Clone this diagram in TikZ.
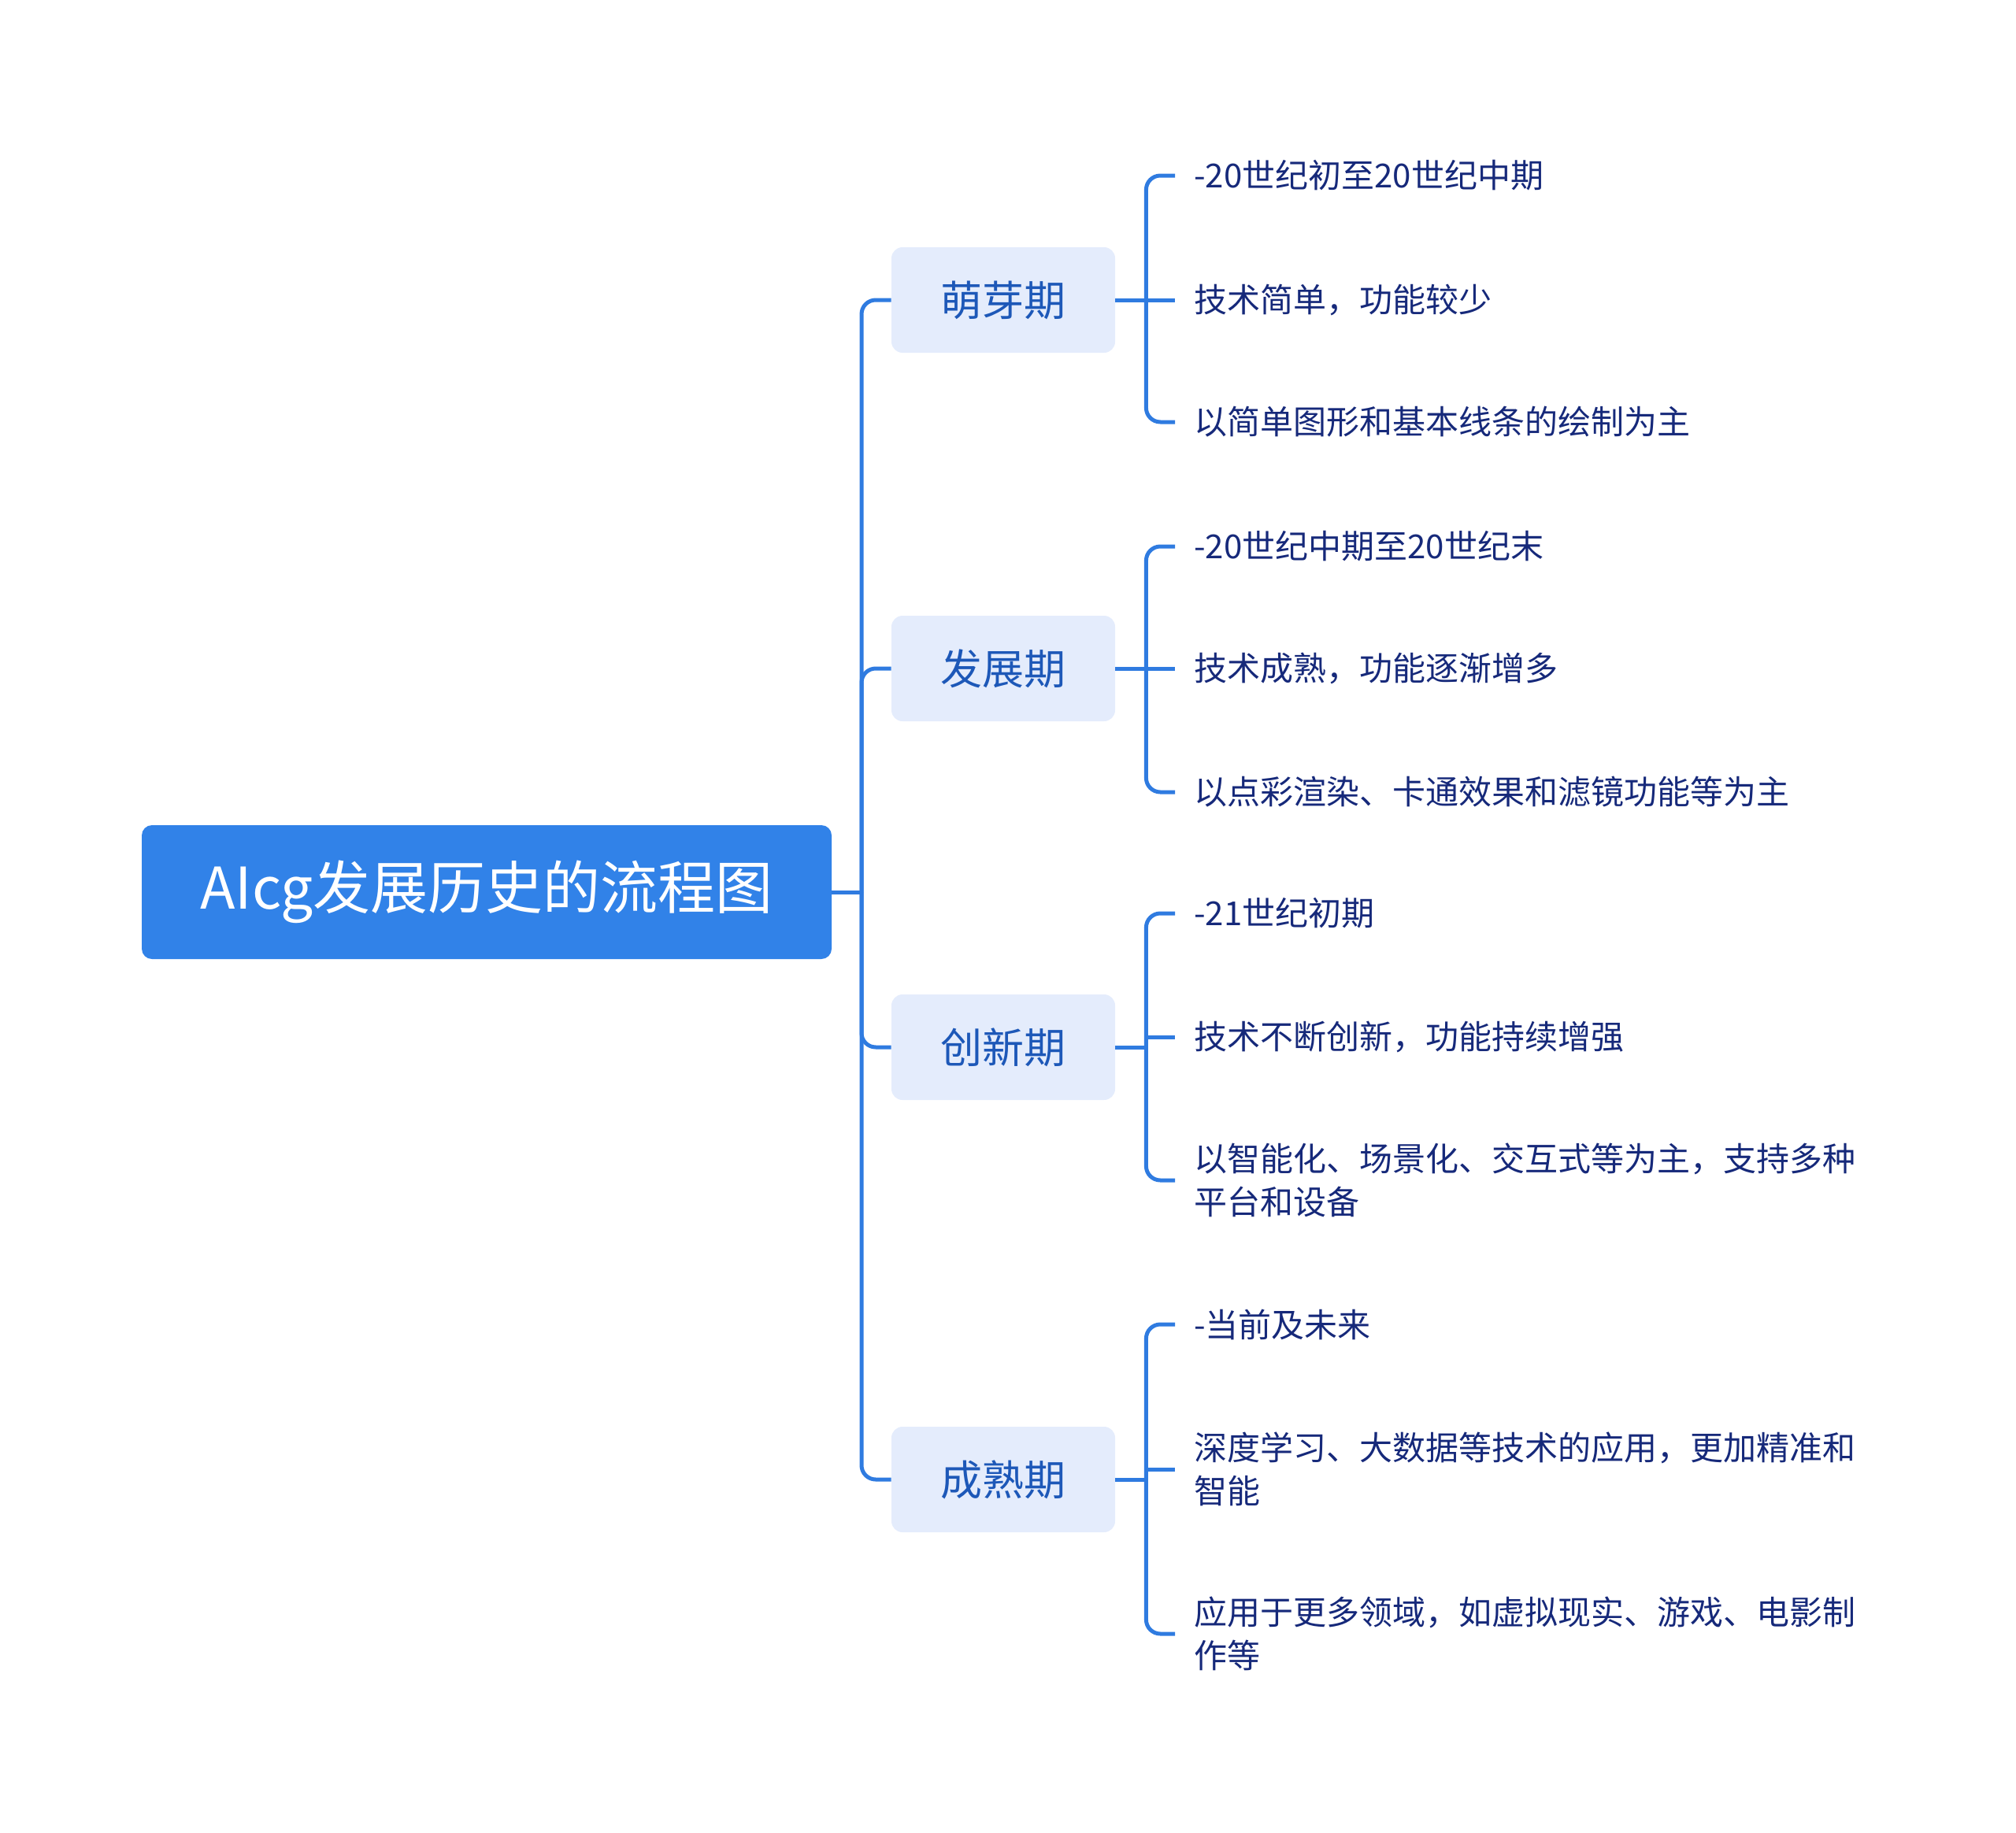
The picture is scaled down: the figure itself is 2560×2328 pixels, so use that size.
\documentclass[tikz,border=0pt]{standalone}
\usepackage{fontspec}
\setmainfont{Noto Sans CJK SC}
\definecolor{rootblue}{HTML}{3182E8}
\definecolor{linkblue}{HTML}{2F7BE0}
\definecolor{stagefill}{HTML}{E4ECFC}
\definecolor{stagetext}{HTML}{1D58B8}
\definecolor{leaftext}{HTML}{16297A}
\begin{document}
\begin{tikzpicture}[x=0.5pt, y=-0.5pt,
        rootbox/.style={rectangle, rounded corners=6.5pt, fill=rootblue, text=white, minimum width=438pt, minimum height=85pt, font=\fontsize{36.5}{44}\selectfont},
        stagebox/.style={rectangle, rounded corners=7pt, fill=stagefill, text=stagetext, minimum width=142pt, minimum height=67pt, font=\fontsize{26.5}{32}\selectfont},
        leaf/.style={anchor=west, inner xsep=12pt, inner ysep=2pt, align=left, text=leaftext, font=\fontsize{21}{27.5}\selectfont},
        link/.style={draw=linkblue, line width=2.5pt},
        elbow/.style={link, rounded corners=9pt},]
        \useasboundingbox (0,0) rectangle (2560,2328);

        % Root
        \node[rootbox] (root) at (618,1133) {AIcg发展历史的流程图};

        % Stages
        \node[stagebox] (s1) at (1274,381)  {萌芽期};
        \node[stagebox] (s2) at (1274,849)  {发展期};
        \node[stagebox] (s3) at (1274,1330) {创新期};
        \node[stagebox] (s4) at (1274,1879) {成熟期};

        % Leaves
        \node[leaf] (l11) at (1492,223)  {-20世纪初至20世纪中期};
        \node[leaf] (l12) at (1492,381)  {技术简单，功能较少};
        \node[leaf] (l13) at (1492,536)  {以简单图形和基本线条的绘制为主};
        \node[leaf] (l21) at (1492,694)  {-20世纪中期至20世纪末};
        \node[leaf] (l22) at (1492,849)  {技术成熟，功能逐渐增多};
        \node[leaf] (l23) at (1492,1006) {以点彩渲染、卡通效果和滤镜功能等为主};
        \node[leaf] (l31) at (1492,1160) {-21世纪初期};
        \node[leaf] (l32) at (1492,1317) {技术不断创新，功能持续增强};
        \node[leaf] (l33) at (1492,1499) {以智能化、场景化、交互式等为主，支持多种\\平台和设备};
        \node[leaf] (l41) at (1492,1682) {-当前及未来};
        \node[leaf] (l42) at (1492,1866) {深度学习、大数据等技术的应用，更加精准和\\智能};
        \node[leaf] (l43) at (1492,2075) {应用于更多领域，如虚拟现实、游戏、电影制\\作等};

        % Links root -> stages
        \coordinate (rj) at (1094,1133);
        \draw[link] (root.east) -- (rj);
        \foreach \s in {s1,s2,s3,s4}
            \draw[elbow] (rj) |- (\s.west);

        % Links stages -> leaves
        \foreach \s/\a/\b/\c in {s1/l11/l12/l13, s2/l21/l22/l23, s3/l31/l32/l33, s4/l41/l42/l43} {
            \coordinate (j\s) at ([xshift=19.5pt]\s.east);
            \draw[link] (\s.east) -- (j\s);
            \draw[elbow] (j\s) |- (\a.west);
            \draw[elbow] (j\s) |- (\c.west);
            \draw[link] (j\s |- \b.west) -- (\b.west);
        }
    \end{tikzpicture}
\end{document}
